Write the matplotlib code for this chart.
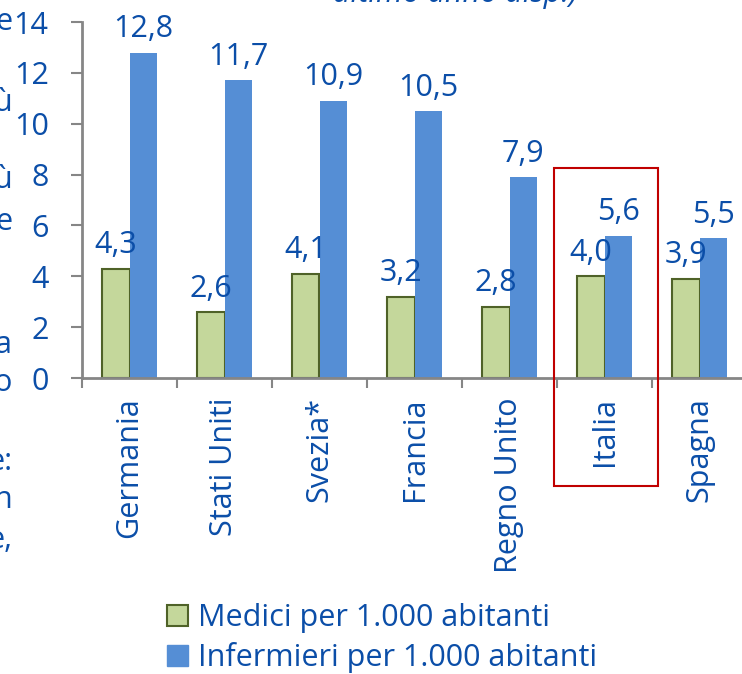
import matplotlib
matplotlib.use("Agg")
import matplotlib.pyplot as plt
from matplotlib.patches import Patch, Rectangle
import numpy as np

categories = ["Germania", "Stati Uniti", "Svezia*", "Francia", "Regno Unito", "Italia", "Spagna"]
medici = [4.3, 2.6, 4.1, 3.2, 2.8, 4.0, 3.9]
infermieri = [12.8, 11.7, 10.9, 10.5, 7.9, 5.6, 5.5]
yticks = [0, 2, 4, 6, 8, 10, 12, 14]
series_names = ["Medici per 1.000 abitanti", "Infermieri per 1.000 abitanti"]

TXT = "#0B4EA8"
GREEN = "#C4D79B"
GREEN_EDGE = "#4F6228"
BLUE = "#558ED5"
AX = "#868686"
FS = 22

plt.rcParams['font.family'] = ['Open Sans', 'DejaVu Sans']

W, H = 742, 674
fig = plt.figure(figsize=(W/100, H/100), dpi=100)
ax = fig.add_axes([82/W, 1-378/H, 665/W, 356/H])

x = np.arange(len(categories))
bw = 0.285
b1 = ax.bar(x - bw/2, medici, bw, color=GREEN, edgecolor=GREEN_EDGE, linewidth=1.5, zorder=2)
b2 = ax.bar(x + bw/2, infermieri, bw, color=BLUE, edgecolor=BLUE, linewidth=0, zorder=2)

for xi, v in zip(x - bw/2, medici):
    ax.annotate(f"{v:.1f}".replace(".", ","), (xi, v), xytext=(0, 6), textcoords="offset points",
                ha="center", va="bottom", color=TXT, fontsize=FS)
for xi, v in zip(x + bw/2, infermieri):
    ax.annotate(f"{v:.1f}".replace(".", ","), (xi, v), xytext=(0, 6), textcoords="offset points",
                ha="center", va="bottom", color=TXT, fontsize=FS)

ax.set_xlim(-0.5, len(categories) - 0.5)
ax.set_ylim(0, 14)
ax.set_yticks(yticks)
ax.set_yticklabels([str(t) for t in yticks], color=TXT, fontsize=FS)
ax.set_xticks(x)
ax.set_xticklabels(categories, rotation=90, color=TXT, fontsize=FS)
ax.tick_params(axis='x', length=0, pad=14)
ax.set_xticks(np.arange(-0.5, len(categories), 1.0), minor=True)
ax.tick_params(axis='x', which='minor', length=7, width=1.5, color=AX)
ax.tick_params(axis='y', length=8, width=1.5, color=AX, pad=16)

for s in ["top", "right"]:
    ax.spines[s].set_visible(False)
for s in ["left", "bottom"]:
    ax.spines[s].set_color(AX)
    ax.spines[s].set_linewidth(2)

# red highlight rectangle around Italia
ax.add_patch(Rectangle((4.5 - 0.03, -4.25), 1.09, 12.5, fill=False, edgecolor="#C00000",
                       linewidth=1.5, clip_on=False, zorder=5))

handles = [Patch(facecolor=GREEN, edgecolor=GREEN_EDGE, linewidth=1.5),
           Patch(facecolor=BLUE, edgecolor=BLUE)]
leg = fig.legend(handles, series_names, loc="upper left", bbox_to_anchor=(167/W, 1-603/H),
                 frameon=False, fontsize=FS, handlelength=0.7, handleheight=0.7,
                 handletextpad=0.3, labelspacing=0.3, borderaxespad=0, borderpad=0)
for t in leg.get_texts():
    t.set_color(TXT)

# clipped fragments of surrounding text
fig.text(578/W, 1-9/H, "ultimo anno disp.)", ha="right", va="bottom", style="italic",
         color=TXT, fontsize=FS)
frags = [("e", 22), ("ù", 103), ("ù", 180), ("e", 222), ("a", 345), ("o", 383),
         ("e:", 462), ("n", 500), ("e,", 540)]
for s, yy in frags:
    fig.text(12/W, 1-yy/H, s, ha="right", va="center", color=TXT, fontsize=FS)

fig.savefig("out.png", dpi=100)
